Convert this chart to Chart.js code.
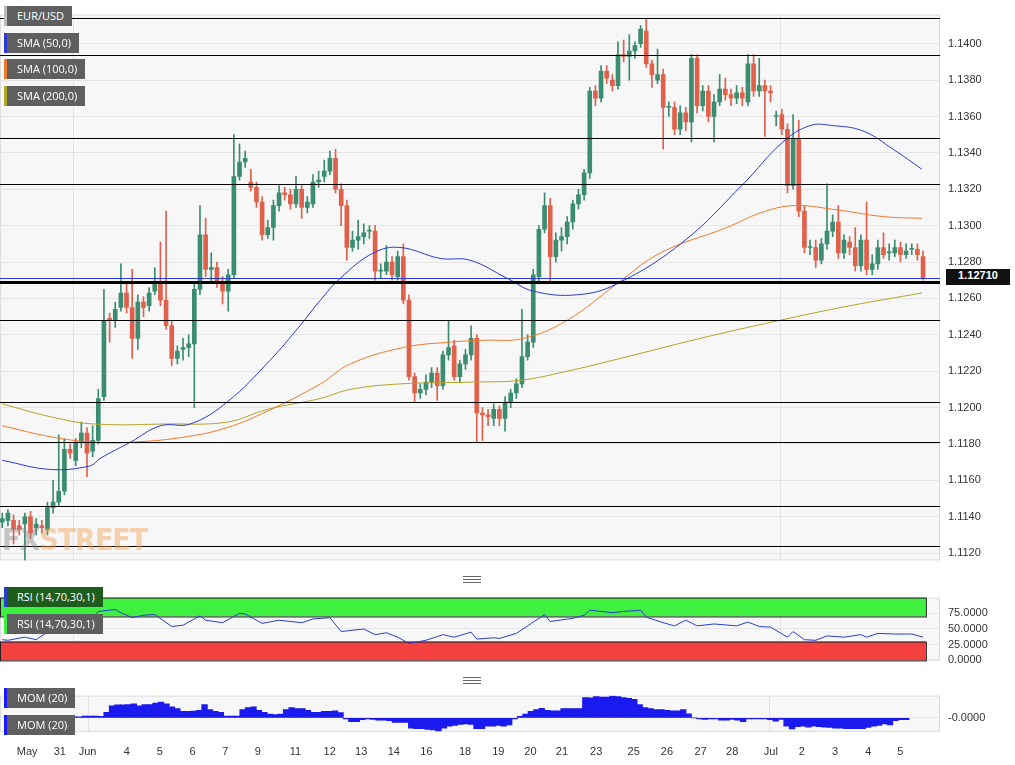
<!DOCTYPE html>
<html>
<head>
<meta charset="utf-8">
<script src="https://cdn.jsdelivr.net/npm/chart.js@4"></script>
<style>
  body { margin: 0; background: #fff; font-family: "Open Sans", Arial, sans-serif; }
  #wrap { position: relative; width: 1015px; height: 765px; overflow: hidden; }
  canvas { position: absolute; left: 0; }
  .tag { position: absolute; left: 4px; height: 20px; line-height: 20px; color: #fff; font-size: 11px;
         background: #5f5f5f; padding: 0 8px 0 10px; border-left: 3px solid #888; white-space: nowrap; }
  .grip { position: absolute; left: 463px; width: 18px; height: 5px; border-top: 1px solid #666; border-bottom: 1px solid #666; }
  .grip:after { content: ""; position: absolute; left: 0; right: 0; top: 2px; border-top: 1px solid #666; }
  #wm { position: absolute; left: 2px; top: 522px; font: bold 30px "Liberation Sans Narrow", "DejaVu Sans Condensed", sans-serif; opacity: .45; letter-spacing: -1px; }
  #last { position: absolute; left: 946px; top: 269px; width: 64px; height: 16px; line-height: 16px; background: #111; color: #fff; font: bold 11px Arial, sans-serif; text-align: center; }
</style>
</head>
<body>
<div id="wrap">
  <canvas id="mainChart" width="1015" height="575" style="top:0"></canvas>
  <canvas id="rsiChart" width="1015" height="92" style="top:583px"></canvas>
  <canvas id="momChart" width="1015" height="84" style="top:681px"></canvas>
  <div id="wm"><span style="color:#888">FX</span><span style="color:#f0a050">STREET</span></div>
  <div class="tag" style="top:6px;border-left-color:#bbb">EUR/USD</div>
  <div class="tag" style="top:33px;border-left-color:#2b3bd6">SMA (50,0)</div>
  <div class="tag" style="top:59px;border-left-color:#f07a2a">SMA (100,0)</div>
  <div class="tag" style="top:86px;border-left-color:#b5a42a">SMA (200,0)</div>
  <div id="last">1.12710</div>
  <div class="grip" style="top:576px"></div>
  <div class="grip" style="top:677px"></div>
  <div class="tag" style="top:587px;background:#1e5c1e;border-left-color:#2a3fcf">RSI (14,70,30,1)</div>
  <div class="tag" style="top:614px;border-left-color:#3ef03e">RSI (14,70,30,1)</div>
  <div class="tag" style="top:688px;border-left-color:#1a1aff">MOM (20)</div>
  <div class="tag" style="top:715px;border-left-color:#1a1aff">MOM (20)</div>
</div>
<script>
// EUR/USD 4h candles, rows are [open, high, low, close]
var ohlc = [
  [1.1137,1.1142,1.1134,1.1139],[1.1138,1.1144,1.1135,1.1142],[1.1138,1.1141,1.1125,1.1133],[1.1135,1.1138,1.1130,1.1133],
  [1.1136,1.1142,1.1116,1.1140],[1.1140,1.1143,1.1128,1.1131],[1.1134,1.1139,1.1130,1.1136],[1.1135,1.1138,1.1131,1.1134],
  [1.1133,1.1148,1.1130,1.1145],[1.1145,1.1160,1.1142,1.1148],[1.1148,1.1185,1.1146,1.1154],[1.1154,1.1183,1.1152,1.1177],
  [1.1177,1.1180,1.1172,1.1175],[1.1171,1.1183,1.1168,1.1181],[1.1181,1.1192,1.1178,1.1186],[1.1186,1.1189,1.1162,1.1175],
  [1.1176,1.1190,1.1173,1.1182],[1.1182,1.1210,1.1180,1.1205],[1.1206,1.1265,1.1204,1.1248],[1.1249,1.1252,1.1236,1.1248],
  [1.1248,1.1258,1.1244,1.1254],[1.1255,1.1279,1.1253,1.1263],[1.1263,1.1268,1.1252,1.1255],[1.1255,1.1276,1.1227,1.1238],
  [1.1238,1.1262,1.1232,1.1258],[1.1258,1.1261,1.1250,1.1255],[1.1256,1.1266,1.1253,1.1263],[1.1264,1.1277,1.1262,1.1269],
  [1.1269,1.1291,1.1256,1.1259],[1.1259,1.1308,1.1243,1.1245],[1.1245,1.1248,1.1223,1.1227],[1.1227,1.1234,1.1224,1.1231],
  [1.1232,1.1238,1.1226,1.1233],[1.1233,1.1240,1.1228,1.1235],[1.1235,1.1268,1.1200,1.1265],[1.1265,1.1311,1.1262,1.1295],
  [1.1295,1.1304,1.1272,1.1276],[1.1276,1.1285,1.1269,1.1277],[1.1277,1.1280,1.1266,1.1269],[1.1269,1.1272,1.1257,1.1264],
  [1.1264,1.1276,1.1253,1.1273],[1.1273,1.1350,1.1271,1.1327],[1.1327,1.1345,1.1325,1.1335],[1.1335,1.1341,1.1332,1.1337],
  [1.1324,1.1331,1.1319,1.1321],[1.1321,1.1324,1.1310,1.1313],[1.1313,1.1316,1.1292,1.1295],[1.1295,1.1303,1.1293,1.1299],
  [1.1299,1.1314,1.1292,1.1311],[1.1311,1.1322,1.1308,1.1318],[1.1318,1.1321,1.1314,1.1317],[1.1317,1.1320,1.1309,1.1312],
  [1.1312,1.1327,1.1310,1.1320],[1.1320,1.1322,1.1304,1.1310],[1.1310,1.1316,1.1307,1.1313],[1.1312,1.1328,1.1310,1.1324],
  [1.1324,1.1330,1.1321,1.1325],[1.1327,1.1336,1.1324,1.1330],[1.1330,1.1341,1.1328,1.1337],[1.1337,1.1342,1.1318,1.1320],
  [1.1320,1.1323,1.1300,1.1311],[1.1311,1.1314,1.1281,1.1288],[1.1288,1.1297,1.1286,1.1292],[1.1292,1.1303,1.1287,1.1294],
  [1.1294,1.1301,1.1290,1.1296],[1.1297,1.1300,1.1293,1.1297],[1.1297,1.1300,1.1270,1.1275],[1.1275,1.1279,1.1271,1.1275],
  [1.1275,1.1289,1.1273,1.1280],[1.1280,1.1283,1.1270,1.1273],[1.1272,1.1286,1.1270,1.1283],[1.1283,1.1290,1.1257,1.1259],
  [1.1259,1.1262,1.1215,1.1217],[1.1217,1.1219,1.1203,1.1208],[1.1208,1.1213,1.1205,1.1210],[1.1210,1.1218,1.1207,1.1214],
  [1.1214,1.1222,1.1211,1.1219],[1.1219,1.1222,1.1204,1.1212],[1.1212,1.1231,1.1210,1.1229],[1.1229,1.1248,1.1226,1.1233],
  [1.1234,1.1237,1.1215,1.1217],[1.1217,1.1226,1.1214,1.1224],[1.1224,1.1232,1.1221,1.1229],[1.1229,1.1245,1.1226,1.1238],
  [1.1238,1.1240,1.1181,1.1197],[1.1197,1.1200,1.1182,1.1196],[1.1196,1.1199,1.1190,1.1195],[1.1194,1.1202,1.1190,1.1199],
  [1.1199,1.1201,1.1190,1.1194],[1.1194,1.1206,1.1187,1.1203],[1.1203,1.1210,1.1200,1.1208],[1.1208,1.1216,1.1205,1.1213],
  [1.1213,1.1254,1.1211,1.1228],[1.1228,1.1240,1.1226,1.1236],[1.1236,1.1276,1.1233,1.1273],[1.1272,1.1300,1.1268,1.1298],
  [1.1298,1.1318,1.1296,1.1311],[1.1311,1.1315,1.1269,1.1283],[1.1283,1.1296,1.1280,1.1292],[1.1292,1.1299,1.1286,1.1294],
  [1.1294,1.1305,1.1290,1.1302],[1.1302,1.1314,1.1298,1.1312],[1.1312,1.1320,1.1309,1.1317],[1.1317,1.1331,1.1314,1.1329],
  [1.1329,1.1376,1.1326,1.1374],[1.1374,1.1377,1.1366,1.1370],[1.1370,1.1388,1.1368,1.1385],[1.1385,1.1388,1.1378,1.1381],
  [1.1380,1.1383,1.1374,1.1377],[1.1377,1.1401,1.1375,1.1394],[1.1394,1.1402,1.1390,1.1393],[1.1393,1.1405,1.1380,1.1396],
  [1.1396,1.1401,1.1392,1.1399],[1.1400,1.1410,1.1398,1.1408],[1.1407,1.1414,1.1387,1.1389],[1.1389,1.1391,1.1376,1.1383],
  [1.1380,1.1397,1.1378,1.1383],[1.1383,1.1386,1.1342,1.1365],[1.1365,1.1368,1.1360,1.1365],[1.1365,1.1368,1.1350,1.1353],
  [1.1353,1.1366,1.1350,1.1362],[1.1362,1.1365,1.1352,1.1357],[1.1357,1.1394,1.1346,1.1392],[1.1392,1.1394,1.1362,1.1366],
  [1.1366,1.1377,1.1363,1.1374],[1.1374,1.1377,1.1357,1.1360],[1.1360,1.1372,1.1346,1.1368],[1.1368,1.1383,1.1366,1.1375],
  [1.1375,1.1381,1.1369,1.1372],[1.1372,1.1375,1.1366,1.1370],[1.1370,1.1377,1.1367,1.1373],[1.1373,1.1376,1.1366,1.1370],
  [1.1368,1.1394,1.1366,1.1389],[1.1389,1.1394,1.1371,1.1374],[1.1374,1.1392,1.1371,1.1377],[1.1377,1.1380,1.1349,1.1374],
  [1.1374,1.1377,1.1368,1.1373],[1.1360,1.1363,1.1355,1.1360],[1.1361,1.1364,1.1350,1.1353],[1.1353,1.1356,1.1318,1.1322],
  [1.1322,1.1361,1.1320,1.1348],[1.1348,1.1358,1.1305,1.1308],[1.1308,1.1311,1.1285,1.1288],[1.1288,1.1292,1.1284,1.1288],
  [1.1288,1.1292,1.1277,1.1281],[1.1281,1.1293,1.1279,1.1290],[1.1290,1.1323,1.1287,1.1297],[1.1297,1.1306,1.1294,1.1302],
  [1.1302,1.1311,1.1282,1.1285],[1.1285,1.1295,1.1282,1.1292],[1.1291,1.1294,1.1284,1.1288],[1.1288,1.1299,1.1275,1.1278],
  [1.1278,1.1295,1.1275,1.1292],[1.1292,1.1313,1.1273,1.1276],[1.1276,1.1284,1.1273,1.1279],[1.1279,1.1292,1.1276,1.1288],
  [1.1288,1.1296,1.1282,1.1284],[1.1285,1.1290,1.1281,1.1285],[1.1285,1.1292,1.1283,1.1288],[1.1288,1.1291,1.1280,1.1284],
  [1.1284,1.1290,1.1282,1.1286],[1.1287,1.1290,1.1284,1.1287],[1.1287,1.1290,1.1281,1.1284],[1.1283,1.1286,1.1270,1.1271]
];

// moving averages read at points along the line: [candle index, price]
var sma50 = [[0,1.1171],[8.5,1.1166],[15.6,1.1168],[17.3,1.1172],[22.7,1.1181],[28,1.1190],[33.3,1.1191],[39.8,1.1203],
  [47.4,1.1226],[52.7,1.1245],[56.3,1.1259],[59.8,1.1271],[65.7,1.1285],[70.4,1.1288],[77.5,1.1282],[82.8,1.1281],
  [89.4,1.1271],[94,1.1264],[101.8,1.1262],[108.8,1.1268],[120.5,1.1291],[131.2,1.1323],[138.2,1.1346],[143,1.1355],
  [147,1.1355],[152.4,1.1352],[157.7,1.1342],[162.8,1.1331]];
var sma100 = [[0,1.1190],[8.5,1.1184],[16.1,1.1181],[23.2,1.1181],[32.7,1.1184],[39.8,1.1189],[46.9,1.1198],[56.3,1.1213],
  [61.6,1.1224],[71,1.1233],[79.3,1.1236],[85.1,1.1237],[92.2,1.1238],[100,1.1248],[108.8,1.1268],[116.5,1.1285],
  [128.3,1.1299],[134.2,1.1307],[140,1.1311],[147,1.1309],[155.9,1.1305],[162.8,1.1304]];
var sma200 = [[0,1.1202],[8.5,1.1195],[16.1,1.1191],[29.2,1.1191],[39.8,1.1192],[46.9,1.1199],[56.3,1.1205],[61.6,1.1210],
  [70.4,1.1213],[83.4,1.1214],[91.7,1.1215],[100,1.1220],[109.4,1.1227],[123.5,1.1238],[137.7,1.1248],[150.1,1.1256],[162.8,1.1263]];

// support / resistance levels
var levels = [1.1414, 1.1394, 1.1348, 1.1323, 1.1269, 1.1248, 1.1203, 1.1181, 1.1146, 1.1124];
var lastPrice = 1.1271;
var priceTicks = [1.1120,1.1140,1.1160,1.1180,1.1200,1.1220,1.1240,1.1260,1.1280,1.1300,1.1320,1.1340,1.1360,1.1380,1.1400];

// RSI read at points: [candle index, value]
var rsi = [[0,33],[1,32],[4,37],[6,33],[8,45],[10,51],[13,62],[15,66],[16,68],[17,78],[20,81],[21,76],[23,68],[25,72],
  [27,73],[30,54],[32,56],[35,71],[36,64],[39,60],[42,75],[43,74],[46,59],[49,64],[53,60],[55,66],[58,68],[60,46],
  [64,50],[66,41],[68,44],[70,37],[72,27],[75,32],[78,41],[80,37],[83,45],[84,34],[87,36],[88,35],[91,43],[95,67],
  [96,73],[97,62],[101,67],[103,72],[104,80],[106,78],[108,76],[110,78],[113,80],[114,69],[117,60],[119,55],[121,64],
  [123,55],[126,58],[130,55],[132,61],[134,54],[136,53],[139,37],[140,46],[142,33],[144,32],[146,39],[149,37],
  [152,41],[153,37],[155,43],[158,42],[161,42],[163,37]];
var rsiTicks = [0, 25, 50, 75];

// momentum (20), in pips, one value per candle
var mom = [-40,-35,-20,-15,-10,-10,-5,-5,0,2,5,5,10,10,10,8,30,65,70,70,72,75,65,72,72,80,85,75,60,50,35,35,36,40,72,45,
  35,30,10,10,10,45,55,60,40,30,20,18,20,45,55,50,50,40,30,30,35,35,38,28,-5,-20,-20,-10,-6,-8,-12,-12,-15,-25,-25,-25,
  -55,-58,-58,-62,-65,-70,-55,-45,-40,-35,-32,-35,-58,-58,-45,-45,-40,-45,-38,-5,8,20,35,45,52,40,38,38,50,50,50,50,
  110,108,115,112,112,118,115,110,105,100,72,55,50,45,45,40,38,38,45,22,0,-5,-8,-6,-5,-12,-12,-8,-12,-20,-5,-5,-5,-6,
  -10,-18,-8,-45,-60,-48,-45,-50,-45,-48,-50,-52,-55,-55,-58,-58,-58,-58,-52,-45,-40,-32,-38,-15,-10,-10];

// day labels on the time axis
var dayLabels = ["May","31","Jun","4","5","6","7","9","11","12","13","14","16","18","19","20","21","23","25","26","27","28","Jul","2","3","4","5"];
var dayTicks = [1.4,7.4,12.5,19.7,25.8,31.8,37.8,43.8,50.7,57,62.8,68.8,74.8,81.9,88,93.9,99.7,106,112.9,119,125.2,131,138.1,143.8,149.9,156,161.9];
var monthTicks = [12.6, 137.7];

var upColor = '#3b8d70', downColor = '#e0604c';
var xMin = -0.4, xMax = 166;
var axisW = 75;

function fitY(scale) { scale.width = axisW; }
function noHeight(scale) { scale.height = 0; }

// panel background, border and month separators
var bgPlugin = {
  id: 'bg',
  beforeDraw: function(chart) {
    var a = chart.chartArea, ctx = chart.ctx, x = chart.scales.x;
    ctx.save();
    ctx.fillStyle = '#f7f7f7';
    ctx.fillRect(a.left, a.top, a.right - a.left, a.bottom - a.top);
    ctx.strokeStyle = '#dcdcdc';
    ctx.strokeRect(a.left + 0.5, a.top + 0.5, a.right - a.left - 1, a.bottom - a.top - 1);
    ctx.strokeStyle = '#e2e2e2';
    monthTicks.forEach(function(v) {
      var px = Math.round(x.getPixelForValue(v)) + 0.5;
      ctx.beginPath(); ctx.moveTo(px, a.top); ctx.lineTo(px, a.bottom); ctx.stroke();
    });
    ctx.restore();
  }
};

// ---- main price chart ----
var bodies = ohlc.map(function(r, i) { return {x: i, y: [r[0], r[3]]}; });
var wicks = ohlc.map(function(r, i) { return {x: i, y: [r[2], r[1]]}; });
var colors = ohlc.map(function(r) { return r[3] >= r[0] ? upColor : downColor; });

var levelPlugin = {
  id: 'levels',
  afterDatasetsDraw: function(chart) {
    var a = chart.chartArea, ctx = chart.ctx, y = chart.scales.y;
    ctx.save();
    levels.forEach(function(v) {
      var py = Math.round(y.getPixelForValue(v)) + 0.5;
      ctx.strokeStyle = '#000';
      ctx.lineWidth = v === 1.1269 ? 3 : 1;
      ctx.beginPath(); ctx.moveTo(a.left, py); ctx.lineTo(a.right, py); ctx.stroke();
    });
    var lp = Math.round(y.getPixelForValue(lastPrice)) + 0.5;
    ctx.strokeStyle = '#2b3bd6'; ctx.lineWidth = 1;
    ctx.beginPath(); ctx.moveTo(a.left, lp); ctx.lineTo(a.right, lp); ctx.stroke();
    ctx.restore();
  }
};

function smaSet(arr, color) {
  return { type: 'line', data: arr.map(function(p) { return {x: p[0], y: p[1]}; }),
    borderColor: color, borderWidth: 1, pointRadius: 0, tension: 0.4, order: 0 };
}

new Chart(document.getElementById('mainChart').getContext('2d'), {
  type: 'bar',
  data: {
    datasets: [
      { data: wicks, backgroundColor: colors, barThickness: 1, grouped: false, minBarLength: 1, order: 2 },
      { data: bodies, backgroundColor: colors, barThickness: 4, grouped: false, minBarLength: 1, order: 1 },
      smaSet(sma50, '#2b3bd6'),
      smaSet(sma100, '#f07a2a'),
      smaSet(sma200, '#b5a42a')
    ]
  },
  options: {
    responsive: false, animation: false,
    layout: { padding: 0 },
    plugins: { legend: { display: false }, tooltip: { enabled: false } },
    scales: {
      x: { type: 'linear', min: xMin, max: xMax, offset: false, afterFit: noHeight,
        ticks: { display: false }, grid: { display: false }, border: { display: false } },
      y: { position: 'right', min: 1.1116, max: 1.1416, afterFit: fitY,
        afterBuildTicks: function(s) { s.ticks = priceTicks.map(function(v) { return {value: v}; }); },
        ticks: { color: '#333', font: { size: 11 }, padding: 8,
          callback: function(v) { return v.toFixed(4); } },
        grid: { color: '#e4e4e4', drawTicks: false }, border: { display: false } }
    }
  },
  plugins: [bgPlugin, levelPlugin]
});

// ---- RSI panel ----
var bandPlugin = {
  id: 'bands',
  beforeDatasetsDraw: function(chart) {
    var ctx = chart.ctx, x = chart.scales.x, y = chart.scales.y, a = chart.chartArea;
    var x1 = x.getPixelForValue(163.5);
    ctx.save();
    ctx.lineWidth = 1; ctx.strokeStyle = '#222';
    ctx.fillStyle = '#40f040';
    ctx.fillRect(a.left, y.getPixelForValue(100), x1 - a.left, y.getPixelForValue(70) - y.getPixelForValue(100));
    ctx.strokeRect(a.left + 0.5, y.getPixelForValue(100) + 0.5, x1 - a.left, y.getPixelForValue(70) - y.getPixelForValue(100));
    ctx.fillStyle = '#f54040';
    ctx.fillRect(a.left, y.getPixelForValue(30), x1 - a.left, y.getPixelForValue(0) - y.getPixelForValue(30));
    ctx.strokeRect(a.left + 0.5, y.getPixelForValue(30) + 0.5, x1 - a.left, y.getPixelForValue(0) - y.getPixelForValue(30));
    ctx.restore();
  }
};

new Chart(document.getElementById('rsiChart').getContext('2d'), {
  type: 'line',
  data: { datasets: [{ data: rsi.map(function(p) { return {x: p[0], y: p[1]}; }),
    borderColor: '#2a3fcf', borderWidth: 1, pointRadius: 0, tension: 0 }] },
  options: {
    responsive: false, animation: false,
    layout: { padding: { top: 2, bottom: 2 } },
    plugins: { legend: { display: false }, tooltip: { enabled: false } },
    scales: {
      x: { type: 'linear', min: xMin, max: xMax, afterFit: noHeight, ticks: { display: false },
        grid: { display: false }, border: { display: false } },
      y: { position: 'right', min: 0, max: 100, afterFit: fitY,
        afterBuildTicks: function(s) { s.ticks = rsiTicks.map(function(v) { return {value: v}; }); },
        ticks: { color: '#333', font: { size: 11 }, padding: 8, callback: function(v) { return v.toFixed(4); } },
        grid: { color: '#e4e4e4', drawTicks: false }, border: { display: false } }
    }
  },
  plugins: [bgPlugin, bandPlugin]
});

// ---- momentum panel ----
new Chart(document.getElementById('momChart').getContext('2d'), {
  type: 'bar',
  data: { datasets: [{ data: mom.map(function(v, i) { return {x: i, y: v}; }),
    backgroundColor: '#1a1aee', barThickness: 5.7 }] },
  options: {
    responsive: false, animation: false,
    layout: { padding: { top: 3, bottom: 0 } },
    plugins: { legend: { display: false }, tooltip: { enabled: false } },
    scales: {
      x: { type: 'linear', min: xMin, max: xMax,
        afterBuildTicks: function(s) { s.ticks = dayTicks.map(function(v) { return {value: v}; }); },
        ticks: { color: '#333', font: { size: 11 }, maxRotation: 0, autoSkip: false, padding: 6,
          callback: function(v, i) { return dayLabels[i]; } },
        grid: { display: false }, border: { display: false } },
      y: { position: 'right', min: -75, max: 120, afterFit: fitY,
        afterBuildTicks: function(s) { s.ticks = [{value: 0}]; },
        ticks: { color: '#333', font: { size: 11 }, padding: 8, callback: function() { return '-0.0000'; } },
        grid: { color: '#e4e4e4', drawTicks: false }, border: { display: false } }
    }
  },
  plugins: [bgPlugin]
});
</script>
</body>
</html>
